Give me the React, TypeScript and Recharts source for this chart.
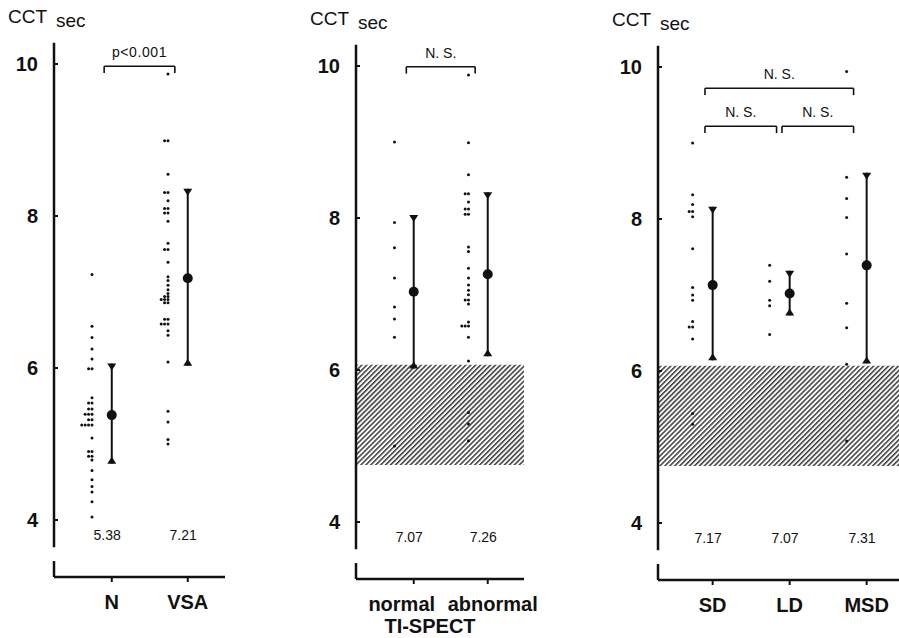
import { ComposedChart, Scatter, XAxis, YAxis, ReferenceArea, ReferenceLine } from 'recharts'

const FONT = '"Liberation Sans", Arial, Helvetica, sans-serif'
const INK = '#111'
const H = 638

// ---- panel 1: N vs VSA
const P1_GROUPS = ['N', 'VSA']
const N_VALUES = [7.23, 6.55, 6.4, 6.25, 6.12, 5.99, 5.99, 5.61, 5.54, 5.54, 5.46, 5.46, 5.39, 5.39, 5.39,
  5.32, 5.32, 5.25, 5.25, 5.25, 5.25, 5.08, 4.9, 4.9, 4.84, 4.84, 4.79, 4.65, 4.53, 4.44, 4.37, 4.24, 4.04]
const VSA_VALUES = [9.87, 8.99, 8.99, 8.55, 8.31, 8.31, 8.2, 8.1, 8.1, 8.04, 8.04, 7.93, 7.64, 7.56, 7.56, 7.39,
  7.2, 7.15, 7.09, 7.03, 6.98, 6.94, 6.94, 6.9, 6.9, 6.9, 6.86, 6.86, 6.64, 6.64, 6.58, 6.58, 6.58, 6.49, 6.43,
  6.08, 5.43, 5.29, 5.06, 5.0]
const P1_MEANS = [5.38, 7.18]
const P1_LOW = [4.74, 6.03]
const P1_HIGH = [6.06, 8.36]
const P1_MEAN_TEXT = ['5.38', '7.21']

// ---- panel 2: Tl-SPECT normal vs abnormal
const P2_GROUPS = ['normal', 'abnormal']
const NORMAL_VALUES = [9.0, 7.94, 7.61, 7.21, 6.83, 6.67, 6.43, 5.0]
const ABNORMAL_VALUES = [9.88, 8.99, 8.57, 8.32, 8.32, 8.21, 8.12, 8.12, 8.05, 8.05, 7.62, 7.56, 7.34, 7.21,
  7.12, 7.05, 6.99, 6.92, 6.92, 6.87, 6.63, 6.58, 6.58, 6.58, 6.43, 6.12, 5.44, 5.29, 5.07]
const P2_MEANS = [7.03, 7.26]
const P2_LOW = [6.02, 6.18]
const P2_HIGH = [8.04, 8.34]
const P2_MEAN_TEXT = ['7.07', '7.26']

// ---- panel 3: SD / LD / MSD
const P3_GROUPS = ['SD', 'LD', 'MSD']
const SD_VALUES = [9.0, 8.32, 8.19, 8.1, 8.1, 8.03, 7.61, 7.1, 7.0, 6.93, 6.65, 6.58, 6.58, 6.42, 5.44, 5.3]
const LD_VALUES = [7.39, 7.18, 6.93, 6.86, 6.48]
const MSD_VALUES = [9.94, 8.55, 8.27, 8.02, 7.54, 6.89, 6.57, 6.09, 5.08]
const P3_MEANS = [7.13, 7.02, 7.39]
const P3_LOW = [6.14, 6.73, 6.1]
const P3_HIGH = [8.16, 7.32, 8.61]
const P3_MEAN_TEXT = ['7.17', '7.07', '7.31']

const NORMAL_BAND = [4.75, 6.07]
const Y_TICKS = [4, 6, 8, 10]

type Bracket = { from: number; to: number; level: number; text: string }
type PanelData = {
  groups: string[]
  values: number[][]
  means: number[]
  low: number[]
  high: number[]
  meanText: string[]
  brackets: Bracket[]
  band: boolean
  subtitle?: string
}
type Layout = {
  left: number; width: number; plotLeft: number; plotRight: number; y10: number
  xDomain: [number, number]; tickShift?: number[]
}

const PANELS: PanelData[] = [
  {
    groups: P1_GROUPS, values: [N_VALUES, VSA_VALUES], means: P1_MEANS, low: P1_LOW, high: P1_HIGH,
    meanText: P1_MEAN_TEXT, band: false,
    brackets: [{ from: 0, to: 1, level: 9.97, text: 'p<0.001' }],
  },
  {
    groups: P2_GROUPS, values: [NORMAL_VALUES, ABNORMAL_VALUES], means: P2_MEANS, low: P2_LOW, high: P2_HIGH,
    meanText: P2_MEAN_TEXT, band: true, subtitle: 'TI-SPECT',
    brackets: [{ from: 0, to: 1, level: 9.99, text: 'N. S.' }],
  },
  {
    groups: P3_GROUPS, values: [SD_VALUES, LD_VALUES, MSD_VALUES], means: P3_MEANS, low: P3_LOW, high: P3_HIGH,
    meanText: P3_MEAN_TEXT, band: true,
    brackets: [
      { from: 0, to: 2, level: 9.72, text: 'N. S.' },
      { from: 0, to: 1, level: 9.22, text: 'N. S.' },
      { from: 1, to: 2, level: 9.22, text: 'N. S.' },
    ],
  },
]

const LAYOUTS: Layout[] = [
  { left: 0, width: 300, plotLeft: 54, plotRight: 225, y10: 64, xDomain: [0.24, 2.49] },
  { left: 300, width: 300, plotLeft: 356, plotRight: 524, y10: 66, xDomain: [0.22, 2.49], tickShift: [-12, 5] },
  { left: 600, width: 299, plotLeft: 658, plotRight: 899, y10: 67, xDomain: [0.29, 3.42] },
]

const UNIT = 76
const Y_MIN = 3.25
const Y_MAX = 10.28

const Dot = (p: any) => <circle cx={p.cx} cy={p.cy} r={1.5} fill={INK} />
const MeanDot = (p: any) => <circle cx={p.cx} cy={p.cy} r={5} fill={INK} />
const Tip = (p: any) => {
  const s = p.payload.end === 'low' ? -7 : 7
  return <path d={`M${p.cx - 4.5},${p.cy}L${p.cx + 4.5},${p.cy}L${p.cx},${p.cy + s}Z`} fill={INK} />
}
const SmallText = (p: any) => (
  <text x={p.cx} y={p.cy + (p.payload.lift || 0)} textAnchor="middle" dominantBaseline="central"
    fontSize={14} fontFamily={FONT} fill={INK} letterSpacing={p.payload.spacing || 0}>{p.payload.text}</text>
)

function Panel({ idx, data, layout }: { idx: number; data: PanelData; layout: Layout }) {
  const top = layout.y10 - (Y_MAX - 10) * UNIT
  const bottom = layout.y10 + (10 - Y_MIN) * UNIT
  const [x0, x1] = layout.xDomain

  const dots = data.values.flatMap((vals, gi) => {
    const seen: Record<string, number> = {}
    return vals.map((v) => {
      const k = seen[v] ?? 0
      seen[v] = k + 1
      return { x: gi + 1 - 0.26 - k * 0.045, y: v }
    })
  })
  const meanRows = data.means.map((m, i) => ({ x: i + 1, y: m }))
  const meanLabels = data.meanText.map((t, i) => ({ x: i + 1 - 0.06, y: 3.8, text: t }))
  const bracketLabels = data.brackets.map((b) => ({
    x: (b.from + 1 - 0.1 + b.to + 1 - 0.17) / 2, y: b.level, text: b.text, lift: -14, spacing: b.text.startsWith('p') ? 0.6 : 0,
  }))

  const XTick = (p: any) => {
    const i = p.payload.value - 1
    const dx = layout.tickShift ? layout.tickShift[i] : 0
    return (
      <text x={p.x + dx} y={p.y} dy="0.71em" textAnchor="middle" fontSize={20} fontWeight={700}
        fontFamily={FONT} fill={INK}>{data.groups[i]}</text>
    )
  }

  const line = { stroke: INK, strokeWidth: 2 }
  const plotMid = (layout.plotLeft + layout.plotRight) / 2 - layout.left

  return (
    <div style={{ position: 'absolute', left: layout.left, top: 0 }}>
      <ComposedChart width={layout.width} height={H}
        margin={{ top, right: layout.left + layout.width - layout.plotRight, bottom: 0, left: 0 }}>
        <defs>
          <pattern id={`hatch-${idx}`} width={3.5} height={3.5} patternUnits="userSpaceOnUse" patternTransform="rotate(45)">
            <line x1={0.8} y1={0} x2={0.8} y2={3.5} stroke="#1a1a1a" strokeWidth={1.3} />
          </pattern>
        </defs>
        <XAxis type="number" dataKey="x" domain={[x0, x1]} allowDataOverflow
          ticks={data.groups.map((_, i) => i + 1)} interval={0} height={H - bottom}
          axisLine={{ stroke: INK, strokeWidth: 2.5 }} tickLine={{ stroke: INK, strokeWidth: 2 }}
          tickSize={5} tickMargin={13} tick={<XTick />} />
        <YAxis type="number" dataKey="y" domain={[Y_MIN, Y_MAX]} allowDataOverflow ticks={Y_TICKS}
          width={layout.plotLeft - layout.left} axisLine={false} tickLine={{ stroke: INK, strokeWidth: 2 }}
          tickSize={-4} tickMargin={20}
          tick={{ fontSize: 20, fontWeight: 700, fill: INK, fontFamily: FONT }} />
        {data.band && (
          <ReferenceArea x1={x0} x2={x1} y1={NORMAL_BAND[0]} y2={NORMAL_BAND[1]}
            fill={`url(#hatch-${idx})`} fillOpacity={1} stroke="none" ifOverflow="visible" />
        )}
        <ReferenceLine segment={[{ x: x0, y: 3.64 }, { x: x0, y: Y_MAX }]} stroke={INK} strokeWidth={2.5} ifOverflow="visible" />
        <ReferenceLine segment={[{ x: x0, y: 3.46 }, { x: x0, y: Y_MIN }]} stroke={INK} strokeWidth={2.5} ifOverflow="visible" />
        {data.brackets.flatMap((b, i) => {
          const a = b.from + 1 - 0.1
          const c = b.to + 1 - 0.17
          return [
            <ReferenceLine key={`h${i}`} segment={[{ x: a, y: b.level }, { x: c, y: b.level }]} stroke={INK} strokeWidth={1.6} ifOverflow="visible" />,
            <ReferenceLine key={`l${i}`} segment={[{ x: a, y: b.level }, { x: a, y: b.level - 0.09 }]} stroke={INK} strokeWidth={1.6} ifOverflow="visible" />,
            <ReferenceLine key={`r${i}`} segment={[{ x: c, y: b.level }, { x: c, y: b.level - 0.09 }]} stroke={INK} strokeWidth={1.6} ifOverflow="visible" />,
          ]
        })}
        <Scatter data={dots} shape={Dot} isAnimationActive={false} />
        {data.groups.map((_, i) => (
          <Scatter key={`sd${i}`} data={[{ x: i + 1, y: data.low[i], end: 'low' }, { x: i + 1, y: data.high[i], end: 'high' }]}
            line={line} lineType="joint" shape={Tip} isAnimationActive={false} />
        ))}
        <Scatter data={meanRows} shape={MeanDot} isAnimationActive={false} />
        <Scatter data={meanLabels} shape={SmallText} isAnimationActive={false} />
        <Scatter data={bracketLabels} shape={SmallText} isAnimationActive={false} />
        <text x={layout.plotLeft - layout.left - 46} y={layout.y10 - 41} fontSize={19} fontFamily={FONT} fill={INK}>
          CCT<tspan dx={11} dy={4}>sec</tspan>
        </text>
        {data.subtitle && (
          <text x={plotMid - 10} y={H - 5} textAnchor="middle" fontSize={20} fontWeight={700} fontFamily={FONT} fill={INK}>
            {data.subtitle}
          </text>
        )}
      </ComposedChart>
    </div>
  )
}

export default function App() {
  return (
    <div style={{ position: 'fixed', left: 0, top: 0, width: 899, height: H, background: '#fff', overflow: 'hidden' }}>
      {PANELS.map((p, i) => <Panel key={i} idx={i} data={p} layout={LAYOUTS[i]} />)}
    </div>
  )
}
